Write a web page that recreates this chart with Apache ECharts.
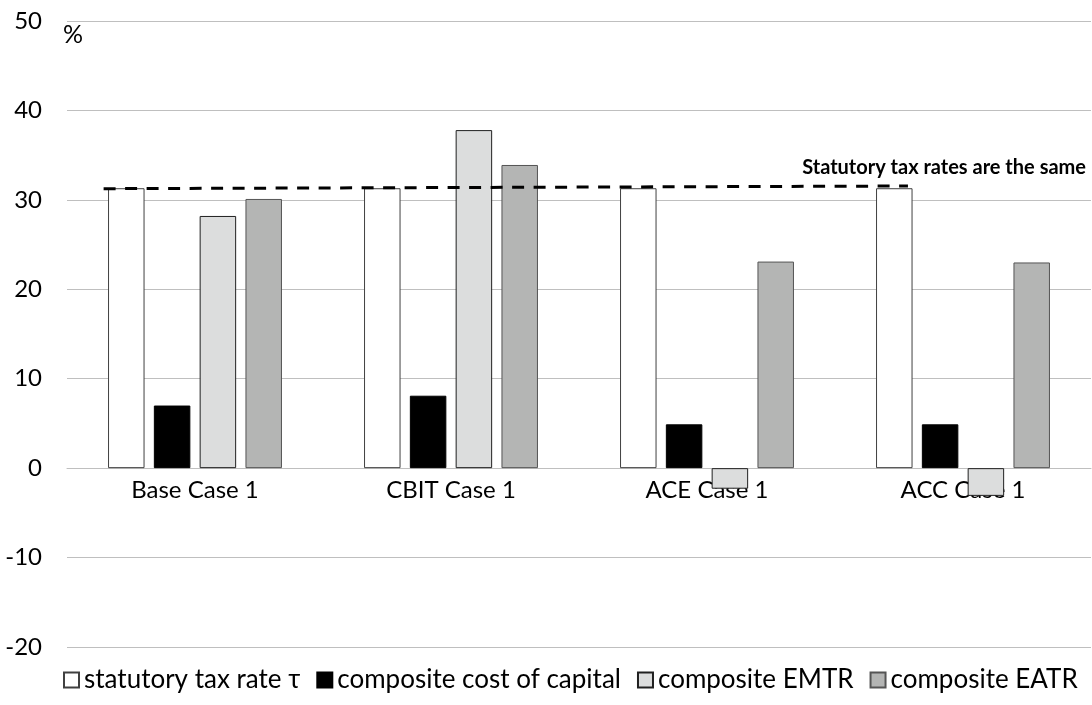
<!DOCTYPE html>
<html>
<head>
<meta charset="utf-8">
<script src="https://cdn.jsdelivr.net/npm/echarts@6/dist/echarts.min.js"></script>
<style>
  html, body { margin: 0; padding: 0; background: #fff; }
  #chart { width: 1092px; height: 705px; }
</style>
</head>
<body>
<div id="chart"></div>
<script>
// Categories and series values (percent)
const categories = ['Base Case 1', 'CBIT Case 1', 'ACE Case 1', 'ACC Case 1'];
const statutoryRate = [31.3, 31.3, 31.3, 31.3];
const costOfCapital = [7.0, 8.1, 4.9, 4.9];
const compositeEMTR = [28.2, 37.8, -2.3, -3.1];
const compositeEATR = [30.1, 33.9, 23.1, 23.0];
const seriesNames = ['statutory tax rate τ', 'composite cost of capital', 'composite EMTR', 'composite EATR'];
const yTicks = { min: -20, max: 50, interval: 10 };

// Dashed reference line across the statutory bars (x in category units, y in percent)
const refLineX = [0.143, 3.285];
const refLineY = [31.25, 31.55];
const refLineText = 'Statutory tax rates are the same';

const FONT = 'Lato, "Open Sans", sans-serif';
const WIDTH = 1092, HEIGHT = 705;
const GRID = { left: 67, right: 1, top: 21, bottom: 58 };

// The category axis sits on the zero line of the value axis
const plotHeight = HEIGHT - GRID.top - GRID.bottom;
const zeroOffset = -plotHeight * (0 - yTicks.min) / (yTicks.max - yTicks.min);

const chart = echarts.init(document.getElementById('chart'), null, { renderer: 'canvas' });

const barStyle = (fill, border) => ({ color: fill, borderColor: border, borderWidth: 1 });
const barSeries = (name, data, style) => ({
  name, type: 'bar', data, barWidth: 36.5, barGap: '25.5%',
  itemStyle: style, emphasis: { disabled: true }
});

chart.setOption({
  animation: false,
  textStyle: { fontFamily: FONT },
  title: {
    text: '%', left: 58, top: 17,
    textStyle: { fontFamily: FONT, fontSize: 25, fontWeight: 'normal', color: '#000' }
  },
  graphic: [{
    type: 'text', right: 6, top: 158,
    style: { text: refLineText, font: 'bold 20px ' + FONT, fill: '#000' }
  }],
  grid: GRID,
  legend: {
    bottom: 7, left: 58, itemWidth: 15, itemHeight: 15, itemGap: 16,
    icon: 'rect',
    textStyle: { fontFamily: FONT, fontSize: 26, color: '#000', padding: [0, 0, 0, 0] },
    data: seriesNames
  },
  xAxis: [{
    type: 'category', data: categories, position: 'bottom', offset: zeroOffset,
    axisLine: { onZero: false, lineStyle: { color: '#bfbfbf', width: 1 } },
    axisTick: { show: false },
    axisLabel: { fontFamily: FONT, fontSize: 24, color: '#000', margin: 10 }
  }, {
    type: 'value', min: 0, max: categories.length, show: false, position: 'top',
    axisLine: { onZero: false }
  }],
  yAxis: {
    type: 'value', min: yTicks.min, max: yTicks.max, interval: yTicks.interval,
    axisLine: { show: false, onZero: false }, axisTick: { show: false },
    axisLabel: { fontFamily: FONT, fontSize: 24, color: '#000', margin: 25 },
    splitLine: { lineStyle: { color: '#bfbfbf', width: 1 } }
  },
  series: [
    barSeries(seriesNames[0], statutoryRate, barStyle('#ffffff', '#404040')),
    barSeries(seriesNames[1], costOfCapital, barStyle('#000000', '#000000')),
    barSeries(seriesNames[2], compositeEMTR, barStyle('#dcdddd', '#202020')),
    barSeries(seriesNames[3], compositeEATR, barStyle('#b4b5b4', '#555555')),
    {
      type: 'line', xAxisIndex: 1, symbol: 'none', silent: true, z: 5,
      data: refLineX.map((x, i) => [x, refLineY[i]]),
      lineStyle: { color: '#000', width: 3, type: [12, 9.5] }
    }
  ]
});
</script>
</body>
</html>
